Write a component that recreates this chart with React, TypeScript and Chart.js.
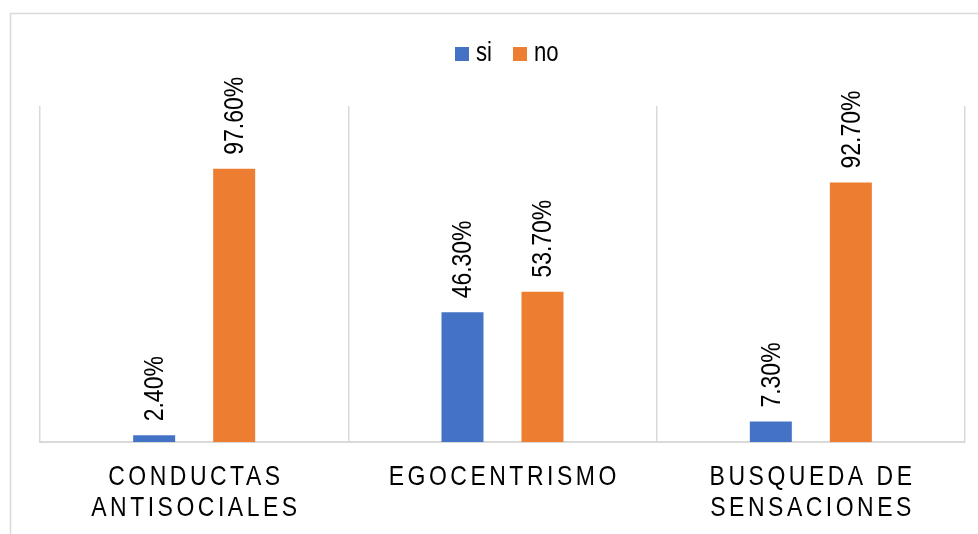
import React, { useEffect, useRef } from "react";
import { Chart, registerables } from "chart.js";

Chart.register(...registerables);

const categories: string[][] = [
  ["CONDUCTAS", "ANTISOCIALES"],
  ["EGOCENTRISMO"],
  ["BUSQUEDA DE", "SENSACIONES"],
];
const seriesNames = ["si", "no"];
const siValues = [0.024, 0.463, 0.073];
const noValues = [0.976, 0.537, 0.927];
const colors = ["#4472C4", "#ED7D31"];

const FONT = '"Liberation Sans", Arial, sans-serif';
const NARROW = 0.82;

function narrowText(ctx: any, text: string, x: number, y: number, rot = 0) {
  ctx.save();
  ctx.translate(x, y);
  if (rot) ctx.rotate(rot);
  ctx.scale(NARROW, 1);
  ctx.fillText(text, 0, 0);
  ctx.restore();
}

const decorPlugin = {
  id: "decor",
  beforeDraw(chart: any) {
    const ctx = chart.ctx;
    ctx.save();
    ctx.strokeStyle = "#d9d9d9";
    ctx.lineWidth = 1.5;
    ctx.beginPath();
    ctx.moveTo(10.5, 534);
    ctx.lineTo(10.5, 13.5);
    ctx.lineTo(978, 13.5);
    ctx.stroke();
    ctx.restore();
  },
  afterDatasetsDraw(chart: any) {
    const ctx = chart.ctx;
    ctx.save();
    ctx.fillStyle = "#000";
    ctx.font = `28px ${FONT}`;
    ctx.textAlign = "left";
    ctx.textBaseline = "middle";
    chart.data.datasets.forEach((ds: any, di: number) => {
      const meta = chart.getDatasetMeta(di);
      meta.data.forEach((bar: any, i: number) => {
        const v = ds.data[i];
        const txt = (v * 100).toFixed(2) + "%";
        narrowText(ctx, txt, bar.x + 1, bar.y - 14, -Math.PI / 2);
      });
    });
    ctx.restore();
  },
  afterDraw(chart: any) {
    const ctx = chart.ctx;
    const xs = chart.scales.x;
    ctx.save();
    ctx.fillStyle = "#000";
    ctx.font = `28px ${FONT}`;
    ctx.textAlign = "center";
    ctx.textBaseline = "middle";
    (ctx as any).letterSpacing = "4.3px";
    categories.forEach((lines, i) => {
      const x = xs.getPixelForValue(i) + 1.75;
      lines.forEach((ln, li) => {
        narrowText(ctx, ln, x, 477 + li * 31);
      });
    });
    (ctx as any).letterSpacing = "0px";
    // legend
    ctx.font = `27px ${FONT}`;
    ctx.textAlign = "left";
    const legendItems = [
      { x: 455, label: seriesNames[0], color: colors[0] },
      { x: 513, label: seriesNames[1], color: colors[1] },
    ];
    legendItems.forEach((it) => {
      ctx.fillStyle = it.color;
      ctx.fillRect(it.x, 47, 14, 14);
      ctx.fillStyle = "#000";
      narrowText(ctx, it.label, it.x + 21, 54);
    });
    ctx.restore();
  },
};

export default function App() {
  const ref = useRef<HTMLCanvasElement>(null);
  useEffect(() => {
    if (!ref.current) return;
    const chart = new Chart(ref.current, {
      type: "bar",
      data: {
        labels: categories.map((c) => c.join(" ")),
        datasets: [
          {
            label: seriesNames[0],
            data: siValues,
            backgroundColor: colors[0],
            categoryPercentage: 0.519,
            barPercentage: 0.525,
          },
          {
            label: seriesNames[1],
            data: noValues,
            backgroundColor: colors[1],
            categoryPercentage: 0.519,
            barPercentage: 0.525,
          },
        ],
      },
      options: {
        responsive: false,
        animation: false,
        devicePixelRatio: 1,
        layout: { padding: { left: 40, right: 13, top: 106, bottom: 92 } },
        plugins: { legend: { display: false }, tooltip: { enabled: false } },
        scales: {
          x: {
            grid: { offset: true, color: "#d9d9d9", drawTicks: false, lineWidth: 1.5 },
            border: { color: "#d9d9d9", width: 2 },
            ticks: { display: false, padding: 0 },
          },
          y: {
            display: false,
            min: 0,
            max: 1.2,
          },
        },
      },
      plugins: [decorPlugin],
    });
    return () => chart.destroy();
  }, []);
  return (
    <div style={{ position: "absolute", left: 0, top: 0, width: 978, height: 534, background: "#fff" }}>
      <canvas ref={ref} width={978} height={534} style={{ display: "block" }} />
    </div>
  );
}
